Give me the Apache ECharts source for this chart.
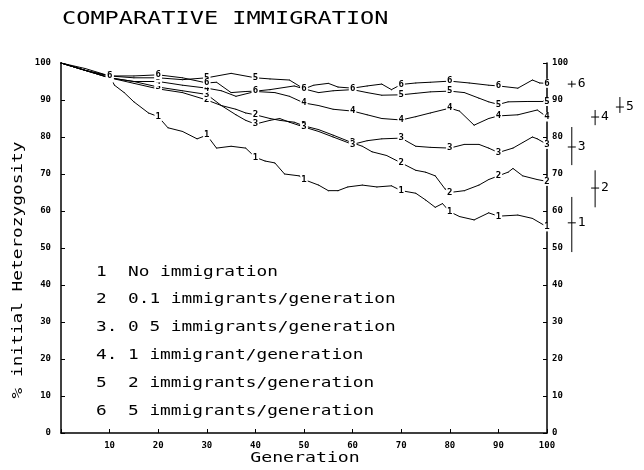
<!DOCTYPE html>
<html>
<head>
<meta charset="utf-8">
<script src="https://cdn.jsdelivr.net/npm/echarts@6/dist/echarts.min.js"></script>
<style>
  html, body { margin: 0; background: #fff; }
  #chart { width: 644px; height: 470px; }
</style>
</head>
<body>
<div id="chart"></div>
<script>
// readings of the figure: [generation, % initial heterozygosity]
var s1 = [[0,100],[5,98.5],[10,96.5],[11,94],[13,92],[15,89.5],[18,86.5],[20,85.5],[22,82.5],[25,81.5],[28,79.5],[30,80.5],[32,77],[35,77.5],[38,77],[40,74.5],[42,73.5],[44,73],[46,70],[49,69.5],[50,68.5],[53,67],[55,65.5],[57,65.5],[59,66.5],[62,67],[65,66.5],[68,66.8],[70,65.5],[73,64.8],[75,63],[77,61],[78.5,62],[80,59.8],[82,58.5],[85,57.6],[88,59.5],[90,58.6],[94,58.9],[97,58],[100,55.7]];
var s2 = [[0,100],[5,98],[10,96],[15,94.5],[20,93],[25,92],[30,90],[33,88.5],[36,87.5],[38,86.5],[40,86],[43,85],[45,84.5],[48,84],[50,83],[53,82],[56,80.5],[60,78.4],[62,77.5],[64,76],[67,75],[70,73],[73,71],[75,70.5],[77,69.5],[79,66],[80,65],[83,65.5],[86,67],[88,68.5],[90,69.5],[92,70.5],[93,71.5],[95,69.5],[98,68.5],[100,68]];
var s3 = [[0,100],[5,98],[10,96],[15,95],[20,93.5],[25,92.5],[30,91.5],[33,88.5],[36,86],[38,84.5],[40,83.5],[43,84.5],[45,85],[47,84],[50,82.7],[53,81.5],[56,80],[60,78],[63,79],[66,79.5],[70,79.7],[73,77.5],[76,77.2],[80,77],[83,78],[86,78],[88,77],[90,75.8],[93,77],[95,78.5],[97,80],[98,79.5],[100,78]];
var s4 = [[0,100],[5,98],[10,96],[15,95],[20,95],[25,94],[30,93.2],[33,92.5],[36,91],[40,92.3],[44,92],[47,91],[50,89.2],[53,88.5],[56,87.5],[60,87],[63,86],[66,85],[70,84.6],[73,85.5],[76,86.5],[80,87.8],[82,87],[85,83.2],[88,85],[90,85.7],[94,86],[98,87.3],[100,85.4]];
var s5 = [[0,100],[5,98],[10,96.5],[15,96],[20,96],[25,95.5],[30,96],[35,97.2],[40,96],[43,95.7],[47,95.4],[50,93],[53,92],[56,92.5],[60,92.8],[63,92],[66,91.3],[70,91.4],[73,91.8],[76,92.2],[80,92.4],[83,92],[86,90.5],[88,89.5],[90,88.8],[92,89.5],[96,89.6],[100,89.6]];
var s6 = [[0,100],[5,98],[10,96.5],[15,96.5],[20,96.8],[25,96],[30,94.6],[32,94.8],[35,92],[38,92.3],[40,92.4],[43,92.8],[46,93.4],[48,93.8],[50,93],[52,94],[55,94.5],[57,93.5],[60,93.2],[63,93.8],[66,94.3],[68,92.8],[70,94.2],[73,94.6],[76,94.8],[80,95.1],[84,94.6],[88,94],[90,93.8],[94,93.2],[97,95.4],[98.5,94.6],[100,94.5]];

// spread marks right of the plot: [x position (generation units), centre, low, high]
var errBars = [[105.1,56.8,48.9,63.8],[109.9,66.2,61,71],[105.1,77.3,72.4,82.7],[109.9,85.4,83.2,87.3],[115,88.1,86.5,90.8],[105.1,94.3,93.4,95.2]];
var errNames = ['1', '2', '3', '4', '5', '6'];

var legendNums = ['1', '2', '3.', '4.', '5', '6'];
var legendTexts = ['No immigration', '0.1 immigrants/generation', '0 5 immigrants/generation',
  '1 immigrant/generation', '2 immigrants/generation', '5 immigrants/generation'];

var MONO = "'DejaVu Sans Mono', 'Liberation Mono', monospace";

var chart = echarts.init(document.getElementById('chart'), null, { renderer: 'canvas' });

function lineSeries(name, pts) {
  return {
    name: name,
    type: 'line',
    symbol: 'circle',
    symbolSize: 1,
    itemStyle: { color: '#000' },
    lineStyle: { color: '#000', width: 1 },
    data: pts.map(function (p) {
      var tagged = p[0] > 0 && p[0] % 10 === 0;
      return { value: p, label: { show: tagged } };
    }),
    label: {
      position: 'inside',
      formatter: name,
      fontFamily: MONO,
      fontSize: 9,
      fontWeight: 'bold',
      color: '#000',
      backgroundColor: '#fff',
      padding: [0, 1]
    },
    emphasis: { disabled: true },
    z: 3
  };
}

var graphics = [{
  type: 'text', x: 62, y: 19, scaleX: 1.31,
  style: { text: 'COMPARATIVE IMMIGRATION', font: '18px ' + MONO, fill: '#000', verticalAlign: 'middle' }
}, {
  type: 'text', x: 305, y: 458, scaleX: 1.3,
  style: { text: 'Generation', font: '14px ' + MONO, fill: '#000', align: 'center', verticalAlign: 'middle' }
}, {
  type: 'text', x: 18, y: 270, rotation: Math.PI / 2, scaleX: 1.27,
  style: { text: '% initial Heterozygosity', font: '14px ' + MONO, fill: '#000', align: 'center', verticalAlign: 'middle' }
}];
var legendY = [272, 299, 327, 355, 383, 411];
legendNums.forEach(function (n, i) {
  graphics.push({
    type: 'text', x: 96, y: legendY[i], scaleX: 1.27,
    style: { text: n, font: '14px ' + MONO, fill: '#000', verticalAlign: 'middle' }
  });
  graphics.push({
    type: 'text', x: 128, y: legendY[i], scaleX: 1.27,
    style: { text: legendTexts[i], font: '14px ' + MONO, fill: '#000', verticalAlign: 'middle' }
  });
});

var axisCommon = {
  type: 'value',
  min: 0,
  max: 100,
  interval: 10,
  splitLine: { show: false },
  axisLine: { show: true, lineStyle: { color: '#000', width: 1.5 } },
  axisTick: { show: true, inside: true, length: 4, lineStyle: { color: '#000' } },
  axisLabel: { fontFamily: MONO, fontSize: 9, fontWeight: 'bold', color: '#000' }
};

var option = {
  animation: false,
  backgroundColor: '#fff',
  grid: { left: 61, right: 97, top: 63, bottom: 37 },
  xAxis: echarts.util.merge({
    axisLabel: { margin: 8, formatter: function (v) { return v === 0 ? '' : v; } }
  }, axisCommon),
  yAxis: [
    echarts.util.merge({ position: 'left', axisLabel: { margin: 10 } }, axisCommon),
    echarts.util.merge({ position: 'right', axisLabel: { margin: 5 } }, axisCommon)
  ],
  graphic: graphics,
  series: [
    lineSeries('1', s1),
    lineSeries('2', s2),
    lineSeries('3', s3),
    lineSeries('4', s4),
    lineSeries('5', s5),
    lineSeries('6', s6),
    {
      type: 'custom',
      clip: false,
      data: errBars,
      renderItem: function (params, api) {
        var mid = api.coord([api.value(0), api.value(1)]);
        var lo = api.coord([api.value(0), api.value(2)]);
        var hi = api.coord([api.value(0), api.value(3)]);
        return {
          type: 'group',
          children: [
            { type: 'line', shape: { x1: mid[0], y1: lo[1], x2: mid[0], y2: hi[1] }, style: { stroke: '#000', lineWidth: 1 } },
            { type: 'line', shape: { x1: mid[0] - 4, y1: mid[1], x2: mid[0] + 4, y2: mid[1] }, style: { stroke: '#000', lineWidth: 1 } },
            { type: 'text', x: mid[0] + 6, y: mid[1], style: { text: errNames[params.dataIndex], font: '13px ' + MONO, fill: '#000', align: 'left', verticalAlign: 'middle' } }
          ]
        };
      }
    }
  ]
};

chart.setOption(option);
</script>
</body>
</html>
